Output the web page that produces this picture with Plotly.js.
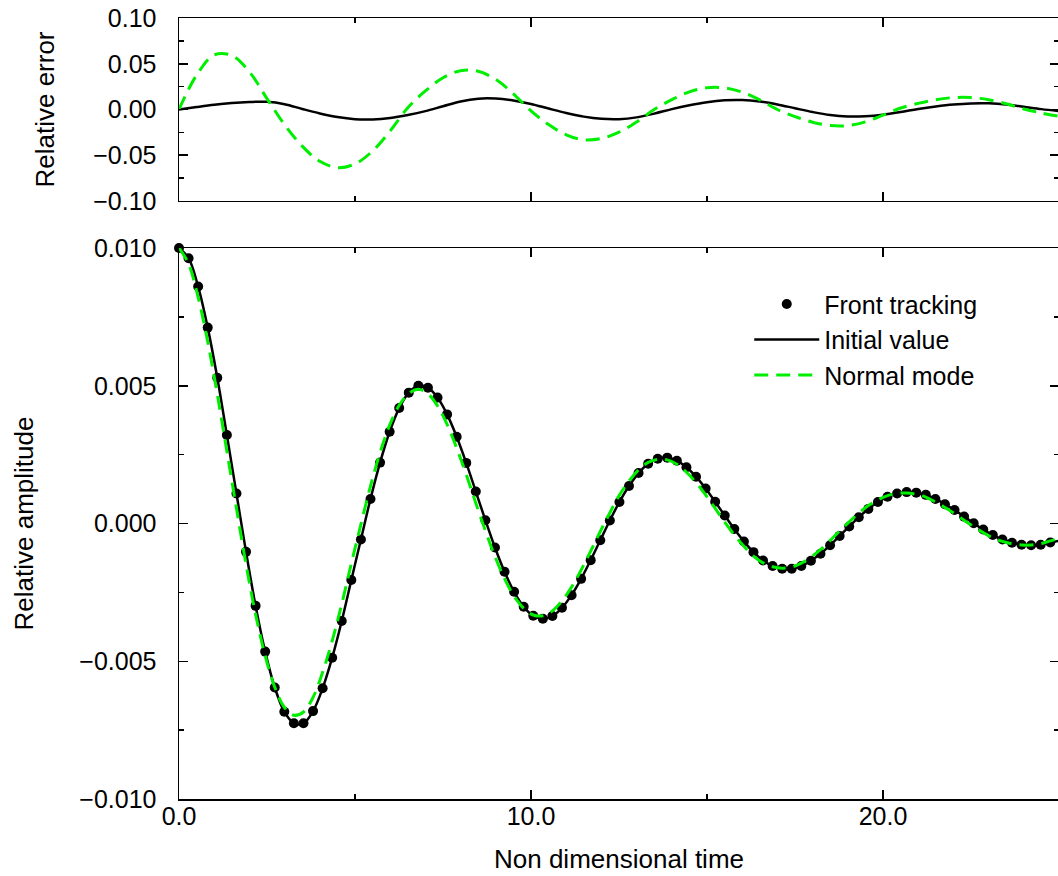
<!DOCTYPE html>
<html>
<head>
<meta charset="utf-8">
<script src="https://cdn.plot.ly/plotly-3.0.1.min.js"></script>
<style>
html,body{margin:0;padding:0;overflow:hidden;background:#fff;}
#chart{width:1060px;height:876px;}
</style>
</head>
<body>
<div id="chart"></div>
<script>
// ---- data ----
const timeFront = [0, 0.272, 0.544, 0.816, 1.088, 1.36, 1.632, 1.904, 2.176, 2.448, 2.72, 2.992, 3.264, 3.536, 3.808, 4.08, 4.352, 4.624, 4.896, 5.168, 5.44, 5.712, 5.984, 6.256, 6.528, 6.8, 7.072, 7.344, 7.616, 7.888, 8.16, 8.432, 8.704, 8.976, 9.248, 9.52, 9.792, 10.064, 10.336, 10.608, 10.88, 11.152, 11.424, 11.696, 11.968, 12.24, 12.512, 12.784, 13.056, 13.328, 13.6, 13.872, 14.144, 14.416, 14.688, 14.96, 15.232, 15.504, 15.776, 16.048, 16.32, 16.592, 16.864, 17.136, 17.408, 17.68, 17.952, 18.224, 18.496, 18.768, 19.04, 19.312, 19.584, 19.856, 20.128, 20.4, 20.672, 20.944, 21.216, 21.488, 21.76, 22.032, 22.304, 22.576, 22.848, 23.12, 23.392, 23.664, 23.936, 24.208, 24.48, 24.752, 25.024];

// Front tracking amplitude (dots); the "Initial value" line runs through the same values
const ampFront = [0.01, 0.00963, 0.0086, 0.00711, 0.00529, 0.00321, 0.00109, -0.00103, -0.00299, -0.00465, -0.00595, -0.00683, -0.00725, -0.00725, -0.00681, -0.00598, -0.00487, -0.00354, -0.00205, -0.00058, 0.00089, 0.00221, 0.00333, 0.00419, 0.00475, 0.005, 0.00493, 0.00457, 0.00396, 0.00315, 0.0022, 0.00116, 0.00012, -0.00087, -0.00175, -0.00248, -0.00302, -0.00335, -0.00346, -0.00336, -0.00306, -0.0026, -0.00201, -0.00133, -0.00061, 0.00011, 0.00078, 0.00136, 0.00183, 0.00217, 0.00235, 0.00239, 0.00228, 0.00204, 0.0017, 0.00127, 0.00079, 0.00029, -0.0002, -0.00065, -0.00104, -0.00134, -0.00154, -0.00164, -0.00164, -0.00154, -0.00135, -0.0011, -0.00079, -0.00045, -0.00011, 0.00023, 0.00053, 0.00078, 0.00097, 0.00109, 0.00114, 0.00112, 0.00104, 0.00089, 0.0007, 0.00049, 0.00025, 0.00001, -0.00022, -0.00042, -0.00058, -0.0007, -0.00077, -0.00079, -0.00077, -0.00069, -0.00062];

// Normal mode amplitude
const ampNormal = [0.01, 0.00943, 0.00821, 0.0066, 0.00469, 0.00262, 0.00055, -0.00148, -0.0033, -0.0048, -0.00594, -0.00667, -0.00696, -0.00684, -0.00631, -0.0054, -0.00426, -0.00292, -0.00145, -0.00003, 0.00136, 0.00257, 0.00357, 0.00429, 0.00472, 0.00487, 0.00471, 0.00427, 0.0036, 0.00274, 0.00178, 0.00074, -0.00026, -0.0012, -0.002, -0.00264, -0.00308, -0.00332, -0.00335, -0.00317, -0.00281, -0.00231, -0.00169, -0.001, -0.00029, 0.00039, 0.00103, 0.00154, 0.00195, 0.00222, 0.00233, 0.00231, 0.00215, 0.00186, 0.00149, 0.00104, 0.00055, 0.00005, -0.00041, -0.00083, -0.00118, -0.00143, -0.00157, -0.00162, -0.00158, -0.00144, -0.00122, -0.00095, -0.00062, -0.00027, 0.00006, 0.00038, 0.00065, 0.00086, 0.00101, 0.00109, 0.00111, 0.00106, 0.00096, 0.00078, 0.00058, 0.00036, 0.00012, -0.00012, -0.00033, -0.00052, -0.00065, -0.00074, -0.00078, -0.00078, -0.00073, -0.00063, -0.00054];

// Relative error panel
const timeError = [0, 0.5, 1, 1.5, 2, 2.5, 3, 3.5, 4, 4.5, 5, 5.5, 6, 6.5, 7, 7.5, 8, 8.5, 9, 9.5, 10, 10.5, 11, 11.5, 12, 12.5, 13, 13.5, 14, 14.5, 15, 15.5, 16, 16.5, 17, 17.5, 18, 18.5, 19, 19.5, 20, 20.5, 21, 21.5, 22, 22.5, 23, 23.5, 24, 24.5, 25];
const errInitial = [0, 0.0027, 0.0052, 0.0071, 0.0082, 0.0084, 0.0058, 0.0006, -0.0043, -0.0083, -0.0106, -0.0108, -0.0092, -0.006, -0.0018, 0.0036, 0.0088, 0.0118, 0.0119, 0.0098, 0.006, 0.001, -0.0038, -0.0078, -0.0102, -0.0106, -0.0086, -0.0045, 0.0004, 0.0046, 0.008, 0.01, 0.0103, 0.0087, 0.0055, 0.0013, -0.0028, -0.0061, -0.0077, -0.0074, -0.0057, -0.0028, 0.0006, 0.0033, 0.0054, 0.0066, 0.0067, 0.0055, 0.003, 0.0004, -0.0018];
const errNormal = [0, 0.0375, 0.0597, 0.059, 0.0412, 0.0119, -0.0167, -0.04, -0.0566, -0.0635, -0.0595, -0.0453, -0.0234, 0.0019, 0.0203, 0.0347, 0.0424, 0.0418, 0.0328, 0.0172, -0.0016, -0.0164, -0.0277, -0.0331, -0.0317, -0.0248, -0.0136, 0, 0.0107, 0.0192, 0.0238, 0.0236, 0.0189, 0.0105, 0, -0.0077, -0.0139, -0.0175, -0.0176, -0.0135, -0.0062, 0.0016, 0.0067, 0.0107, 0.013, 0.013, 0.0107, 0.0062, 0.0006, -0.0039, -0.0075];

// tick labels
const xTickVals = [0, 10, 20];
const xTickText = ['0.0', '10.0', '20.0'];
const xMinorVals = [5, 15, 25];
const ampTickVals = [-0.01, -0.005, 0, 0.005, 0.01];
const ampMinorVals = [-0.0075, -0.0025, 0.0025, 0.0075];
const errTickVals = [-0.1, -0.05, 0, 0.05, 0.1];
const errMinorVals = [-0.075, -0.025, 0.025, 0.075];

// ---- styling ----
const GREEN = '#00ee00';
const FONT = 'Liberation Sans, Arial, Helvetica, sans-serif';

const traces = [
  {x: timeFront, y: ampFront, mode: 'markers', name: 'Front tracking',
   marker: {size: 10, color: 'black'}, cliponaxis: false, xaxis: 'x', yaxis: 'y'},
  {x: timeFront, y: ampFront, mode: 'lines', name: 'Initial value',
   line: {color: 'black', width: 2.5, shape: 'spline'}, xaxis: 'x', yaxis: 'y'},
  {x: timeFront, y: ampNormal, mode: 'lines', name: 'Normal mode',
   line: {color: GREEN, width: 3, dash: '14px,8px', shape: 'spline'}, xaxis: 'x', yaxis: 'y'},
  {x: timeError, y: errInitial, mode: 'lines', showlegend: false,
   line: {color: 'black', width: 2.5, shape: 'spline'}, xaxis: 'x2', yaxis: 'y2'},
  {x: timeError, y: errNormal, mode: 'lines', showlegend: false,
   line: {color: GREEN, width: 3, dash: '14px,8px', shape: 'spline'}, xaxis: 'x2', yaxis: 'y2'}
];

function axisBase() {
  return {
    showline: true, linecolor: 'black', linewidth: 1.5, mirror: 'allticks',
    ticks: 'inside', ticklen: 9, tickwidth: 1.5, tickcolor: 'black',
    showgrid: false, zeroline: false,
    tickfont: {family: FONT, size: 25, color: 'black'}
  };
}
function minor(vals) {
  return {tickmode: 'array', tickvals: vals, ticks: 'inside', ticklen: 5, tickwidth: 1.5, tickcolor: 'black', showgrid: false};
}

const layout = {
  width: 1060, height: 876,
  margin: {l: 179, r: 1, t: 18, b: 77},
  paper_bgcolor: 'white', plot_bgcolor: 'white',
  font: {family: FONT, size: 25, color: 'black'},
  showlegend: true,
  legend: {x: 0.648, y: 0.663, xanchor: 'left', yanchor: 'top',
           bgcolor: 'rgba(0,0,0,0)', font: {family: FONT, size: 25, color: 'black'},
           itemwidth: 65, tracegroupgap: 0},
  xaxis: Object.assign(axisBase(), {
    domain: [0, 1], anchor: 'y', range: [0, 25],
    tickmode: 'array', tickvals: xTickVals, ticktext: xTickText,
    minor: minor(xMinorVals), ticklabelstandoff: -6,
    title: {text: 'Non dimensional time', font: {family: FONT, size: 26, color: 'black'}, standoff: 21}
  }),
  yaxis: Object.assign(axisBase(), {
    domain: [0, 0.7055], anchor: 'x', range: [-0.01, 0.01],
    tickmode: 'array', tickvals: ampTickVals, tickformat: '.3f',
    minor: minor(ampMinorVals), ticklabelstandoff: 16,
    title: {text: 'Relative amplitude', font: {family: FONT, size: 26, color: 'black'}, standoff: 38}
  }),
  xaxis2: Object.assign(axisBase(), {
    domain: [0, 1], anchor: 'y2', range: [0, 25],
    tickmode: 'array', tickvals: xTickVals, showticklabels: false,
    minor: minor(xMinorVals)
  }),
  yaxis2: Object.assign(axisBase(), {
    domain: [0.7657, 1], anchor: 'x2', range: [-0.1, 0.1],
    tickmode: 'array', tickvals: errTickVals, tickformat: '.2f',
    minor: minor(errMinorVals), ticklabelstandoff: 16,
    title: {text: 'Relative error', font: {family: FONT, size: 26, color: 'black'}, standoff: 31}
  })
};

Plotly.newPlot('chart', traces, layout, {displayModeBar: false, staticPlot: true});
</script>
</body>
</html>
